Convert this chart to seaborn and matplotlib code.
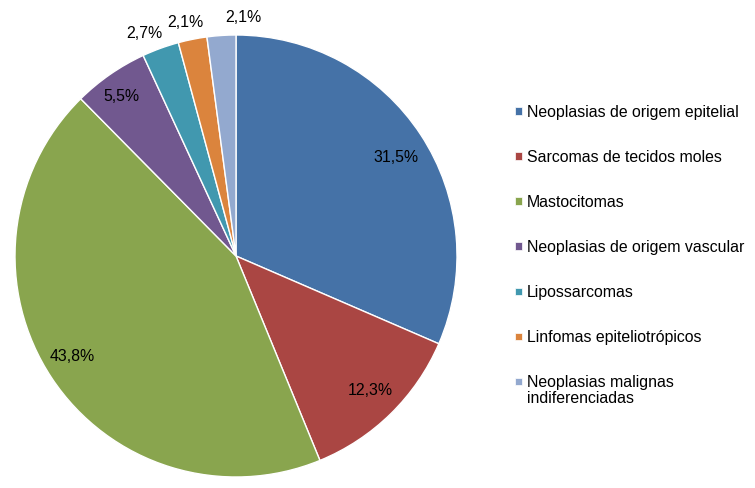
import numpy as np
import matplotlib
matplotlib.use("Agg")
import matplotlib.pyplot as plt
from matplotlib.patches import Rectangle
import seaborn as sns

categories = ["Neoplasias de origem epitelial", "Sarcomas de tecidos moles", "Mastocitomas",
              "Neoplasias de origem vascular", "Lipossarcomas", "Linfomas epiteliotrópicos",
              "Neoplasias malignas\nindiferenciadas"]
values = [31.5, 12.3, 43.8, 5.5, 2.7, 2.1, 2.1]
value_labels = ["31,5%", "12,3%", "43,8%", "5,5%", "2,7%", "2,1%", "2,1%"]
colors = ["#4572A7", "#AA4643", "#89A54E", "#71588F", "#4198AF", "#DB843D", "#93A9CF"]

sns.set_theme(style="white")
plt.rcParams["font.family"] = ["Liberation Sans", "DejaVu Sans"]

W, H = 755, 488
FS = 11.4
fig = plt.figure(figsize=(W / 100, H / 100), dpi=100)
cx, cy, R = 236, 256, 221
ax = fig.add_axes([(cx - R) / W, (H - cy - R) / H, 2 * R / W, 2 * R / H])

palette = sns.color_palette(colors)
wedges, _ = ax.pie(values, colors=palette, startangle=90, counterclock=False,
                   wedgeprops=dict(edgecolor="white", linewidth=1.0))
ax.set_xlim(-1, 1)
ax.set_ylim(-1, 1)
ax.set_aspect("equal")
ax.axis("off")

# label placement (radius factor, angle nudge in degrees)
place = [(0.85, -1.5), (0.86, 0.5), (0.87, -2.0), (0.89, 1.0), (1.09, 2.5), (1.08, 1.0), (1.08, -5.5)]
for w, lab, (rf, nudge) in zip(wedges, value_labels, place):
    ang = np.deg2rad((w.theta1 + w.theta2) / 2 + nudge)
    ax.text(rf * np.cos(ang), rf * np.sin(ang), lab, ha="center", va="center",
            fontsize=FS, color="black")

# legend (drawn manually so the square aligns with the first text line)
y0, step = 111, 45
for i, (cat, col) in enumerate(zip(categories, palette)):
    yc = y0 + i * step
    fig.patches.append(Rectangle((515 / W, 1 - (yc + 3.5) / H), 7 / W, 7 / H,
                                 transform=fig.transFigure, facecolor=col,
                                 edgecolor="white", linewidth=0.5))
    fig.text(527 / W, 1 - (yc - 6) / H, cat, ha="left", va="top", fontsize=FS,
             color="black", linespacing=1.1)

fig.savefig("out.png", dpi=100, facecolor="white")
